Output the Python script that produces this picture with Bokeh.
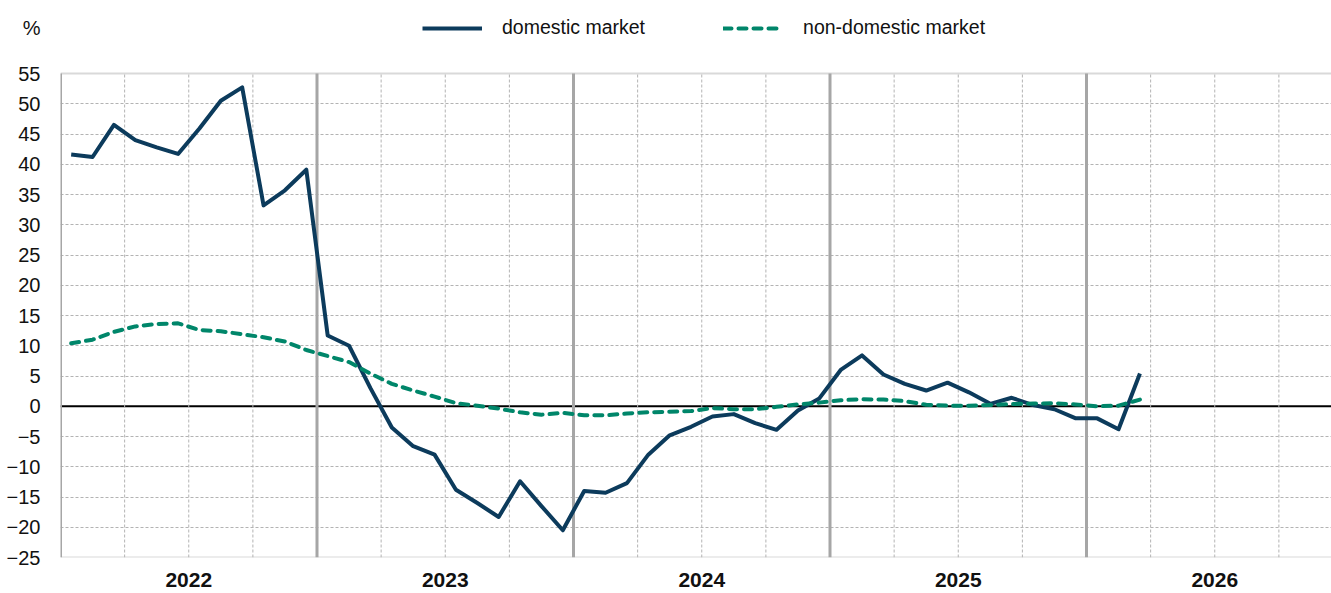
import pandas as pd
from bokeh.plotting import figure
from bokeh.models import FixedTicker, Span, Legend, LegendItem, Range1d
from bokeh.embed import file_html
from bokeh.resources import INLINE

# ---- data ----
years = ["2022", "2023", "2024", "2025", "2026"]
months = pd.date_range("2022-01-01", periods=51, freq="MS")
domestic = [
    41.6, 41.2, 46.5, 44.0, 42.8, 41.7, 45.9, 50.5, 52.7, 33.2, 35.7, 39.1,
    11.7, 10.0, 3.0, -3.5, -6.6, -8.0, -13.8, -16.0, -18.3, -12.4, -16.5, -20.5,
    -14.0, -14.3, -12.7, -8.0, -4.8, -3.4, -1.7, -1.3, -2.8, -3.9, -0.7, 1.3,
    6.0, 8.4, 5.25, 3.7, 2.6, 3.9, 2.3, 0.4, 1.4, 0.2, -0.5, -2.0,
    -2.0, -3.8, 5.4,
]
non_domestic = [
    10.4, 11.0, 12.3, 13.2, 13.6, 13.7, 12.6, 12.4, 11.9, 11.4, 10.7, 9.3,
    8.3, 7.3, 5.4, 3.7, 2.6, 1.6, 0.5, 0.1, -0.4, -1.0, -1.4, -1.1,
    -1.5, -1.5, -1.2, -1.0, -0.9, -0.8, -0.3, -0.5, -0.5, -0.1, 0.3, 0.6,
    1.0, 1.15, 1.1, 0.85, 0.25, 0.1, 0.1, 0.2, 0.35, 0.45, 0.5, 0.3,
    0.0, 0.1, 1.1,
]
y_ticks = list(range(-25, 60, 5))
unit_label = "%"

# ---- layout constants ----
W, H = 1331, 593
LEFT, BOTTOM = 60, 36
PLOT_TOP_PX = 73                      # pixel row of the 55 line
Y_MIN, Y_MAX = y_ticks[0], y_ticks[-1]
frame_h = H - BOTTOM
px_per_unit = (frame_h - PLOT_TOP_PX) / (Y_MAX - Y_MIN)
y_top = Y_MAX + PLOT_TOP_PX / px_per_unit
unit_tick = Y_MAX + (PLOT_TOP_PX - 27) / px_per_unit   # row of the "%" label
px_per_month = 256.5 / 12
x_end = (W - LEFT) / px_per_month

# month position (months since Jan 2022, mid-month)
t = [(m.year - 2022) * 12 + (m.month - 1) + 0.5 for m in months]

FONT = "Liberation Sans"
NAVY = "#0c3b5c"
GREEN = "#00866a"
GRID = "#b3b3b3"
TEXT = "#111111"

p = figure(width=W, height=H, output_backend="svg", toolbar_location=None, title=None,
           x_range=Range1d(0, x_end), y_range=Range1d(Y_MIN, y_top),
           min_border_left=LEFT, min_border_right=0, min_border_top=0, min_border_bottom=BOTTOM)
p.outline_line_color = None
p.background_fill_color = "white"

# horizontal dashed grid
p.xgrid.visible = False
p.ygrid.ticker = FixedTicker(ticks=[v for v in y_ticks if v not in (Y_MIN, 0, Y_MAX)])
p.ygrid.grid_line_color = GRID
p.ygrid.grid_line_dash = "3 2"
p.ygrid.grid_line_width = 1

# vertical quarter (dashed) and year (solid) lines, limited to the plot band
n_months = len(years) * 12
quarters = [q for q in range(3, n_months, 3) if q % 12 != 0 and q < x_end]
year_edges = [i * 12 for i in range(len(years))]
p.segment(x0=quarters, x1=quarters, y0=[Y_MIN] * len(quarters), y1=[Y_MAX] * len(quarters),
          line_color=GRID, line_width=1, line_dash="3 2")
# frame top/bottom borders
for v in (Y_MAX, Y_MIN):
    p.add_layout(Span(location=v, dimension="width", line_color="#d9d9d9", line_width=2, level="underlay"))
# zero line
p.add_layout(Span(location=0, dimension="width", line_color="black", line_width=1.8, level="underlay"))
p.segment(x0=year_edges, x1=year_edges, y0=[Y_MIN] * len(year_edges), y1=[Y_MAX] * len(year_edges),
          line_color="#a6a6a6", line_width=3)

# axes
p.yaxis.ticker = FixedTicker(ticks=y_ticks + [unit_tick])
p.yaxis.major_label_overrides = {unit_tick: unit_label}
p.yaxis.axis_line_color = None
p.yaxis.major_tick_line_color = None
p.yaxis.minor_tick_line_color = None
p.yaxis.major_tick_out = 0
p.yaxis.major_label_standoff = 20
p.yaxis.major_label_text_font = FONT
p.yaxis.major_label_text_font_size = "20px"
p.yaxis.major_label_text_color = TEXT

year_pos = [i * 12 + 6 for i in range(len(years))]
p.xaxis.ticker = FixedTicker(ticks=year_pos)
p.xaxis.major_label_overrides = {pos: y for pos, y in zip(year_pos, years)}
p.xaxis.axis_line_color = None
p.xaxis.major_tick_line_color = None
p.xaxis.minor_tick_line_color = None
p.xaxis.major_tick_out = 0
p.xaxis.major_label_standoff = 15
p.xaxis.major_label_text_font = FONT
p.xaxis.major_label_text_font_size = "21px"
p.xaxis.major_label_text_font_style = "bold"
p.xaxis.major_label_text_color = TEXT

# series
r1 = p.line(t, domestic, line_color=NAVY, line_width=4, line_join="round")
r2 = p.line(t, non_domestic, line_color=GREEN, line_width=4, line_dash="8 7",
            line_cap="round", line_join="round")

legend = Legend(items=[LegendItem(label="domestic market", renderers=[r1]),
                       LegendItem(label="non-domestic market", renderers=[r2])],
                orientation="horizontal", location=(362, frame_h - 39),
                glyph_width=60, glyph_height=20, label_standoff=20, spacing=78,
                padding=0, margin=0, border_line_color=None, background_fill_alpha=0,
                label_text_font=FONT, label_text_font_size="19.5px", label_text_color=TEXT)
p.add_layout(legend, "center")

open("out.html", "w").write(file_html(p, INLINE))
